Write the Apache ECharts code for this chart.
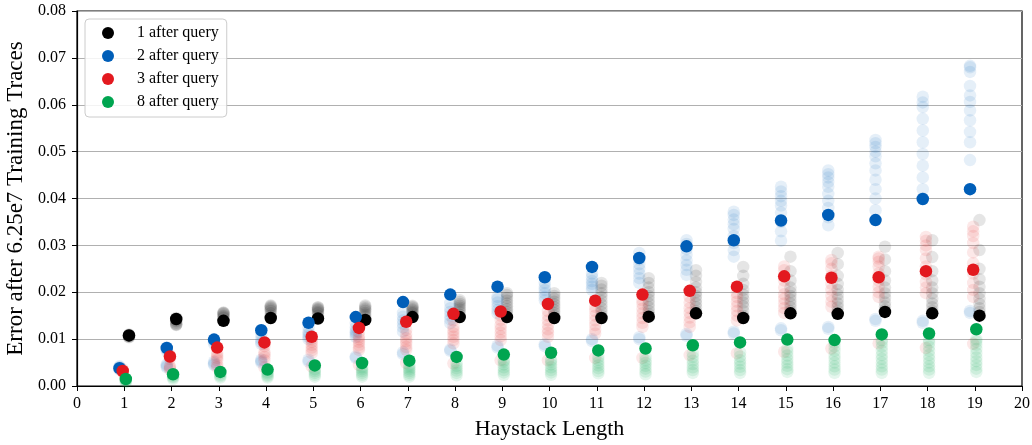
<!DOCTYPE html>
<html>
<head>
<meta charset="utf-8">
<script src="https://cdn.jsdelivr.net/npm/echarts@6/dist/echarts.min.js"></script>
<style>html,body{margin:0;padding:0;background:#fff}#c{width:1032px;height:445px}</style>
</head>
<body>
<div id="c"></div>
<script>
const haystack = [1,2,3,4,5,6,7,8,9,10,11,12,13,14,15,16,17,18,19];
const seriesNames = ['1 after query','2 after query','3 after query','8 after query'];

// Highlighted (solid) values
const main1 = [0.0108,0.0143,0.0139,0.0145,0.0144,0.0141,0.0147,0.0147,0.0147,0.0145,0.0145,0.0148,0.0155,0.0145,0.0155,0.0154,0.0158,0.0155,0.0150];
const main2 = [0.0038,0.0081,0.0099,0.0119,0.0135,0.0147,0.0179,0.0195,0.0212,0.0232,0.0254,0.0273,0.0298,0.0311,0.0353,0.0365,0.0354,0.0399,0.0420];
const main3 = [0.0032,0.0063,0.0082,0.0093,0.0105,0.0124,0.0137,0.0154,0.0159,0.0175,0.0182,0.0195,0.0203,0.0212,0.0234,0.0231,0.0232,0.0245,0.0248];
const main8 = [0.0015,0.0025,0.0030,0.0035,0.0044,0.0049,0.0054,0.0062,0.0067,0.0071,0.0076,0.0080,0.0087,0.0093,0.0099,0.0098,0.0110,0.0112,0.0121];

// Faded (individual run) values, one list per haystack length
const runs1 = [
  [0.0105,0.0106,0.0107,0.0108,0.0108,0.0109,0.0110,0.0104],
  [0.0130,0.0132,0.0135,0.0138,0.0140,0.0142,0.0145,0.0131],
  [0.0140,0.0145,0.0150,0.0153,0.0155,0.0157,0.0156,0.0148],
  [0.0150,0.0155,0.0160,0.0163,0.0166,0.0168,0.0170,0.0172],
  [0.0150,0.0155,0.0158,0.0161,0.0163,0.0165,0.0167,0.0168],
  [0.0148,0.0152,0.0156,0.0160,0.0163,0.0166,0.0169,0.0172],
  [0.0150,0.0155,0.0158,0.0161,0.0164,0.0167,0.0169,0.0171],
  [0.0152,0.0158,0.0163,0.0167,0.0171,0.0175,0.0179,0.0183],
  [0.0152,0.0158,0.0164,0.0170,0.0176,0.0182,0.0188,0.0194,0.0198],
  [0.0150,0.0156,0.0162,0.0168,0.0174,0.0180,0.0186,0.0192,0.0198],
  [0.0150,0.0158,0.0166,0.0174,0.0182,0.0190,0.0198,0.0206,0.0214,0.0220],
  [0.0153,0.0160,0.0168,0.0176,0.0184,0.0192,0.0200,0.0210,0.0220,0.0230],
  [0.0160,0.0168,0.0176,0.0184,0.0192,0.0200,0.0210,0.0222,0.0235,0.0247],
  [0.0150,0.0160,0.0170,0.0178,0.0186,0.0195,0.0205,0.0218,0.0235,0.0254],
  [0.0160,0.0168,0.0176,0.0184,0.0192,0.0200,0.0210,0.0225,0.0245,0.0276],
  [0.0160,0.0168,0.0176,0.0185,0.0195,0.0205,0.0218,0.0235,0.0260,0.0284],
  [0.0162,0.0170,0.0178,0.0188,0.0198,0.0210,0.0225,0.0245,0.0270,0.0297],
  [0.0160,0.0168,0.0176,0.0186,0.0198,0.0210,0.0225,0.0245,0.0275,0.0311],
  [0.0158,0.0166,0.0175,0.0186,0.0198,0.0212,0.0228,0.0250,0.0290,0.0354]
];
const runs2 = [
  [0.0035,0.0037,0.0040,0.0042,0.0036,0.0039],
  [0.0040,0.0043,0.0046,0.0075,0.0078,0.0082],
  [0.0045,0.0048,0.0052,0.0090,0.0095,0.0098],
  [0.0050,0.0053,0.0056,0.0090,0.0094,0.0100,0.0110],
  [0.0052,0.0056,0.0100,0.0105,0.0110,0.0115,0.0125],
  [0.0060,0.0063,0.0105,0.0110,0.0114,0.0118,0.0125,0.0135],
  [0.0068,0.0072,0.0116,0.0125,0.0133,0.0140,0.0148,0.0156],
  [0.0075,0.0078,0.0134,0.0142,0.0150,0.0158,0.0166,0.0177],
  [0.0082,0.0086,0.0155,0.0162,0.0170,0.0178,0.0185,0.0190],
  [0.0085,0.0089,0.0183,0.0190,0.0198,0.0205,0.0212,0.0220],
  [0.0096,0.0100,0.0205,0.0212,0.0218,0.0224,0.0232,0.0240],
  [0.0100,0.0104,0.0220,0.0230,0.0240,0.0250,0.0260,0.0270,0.0284],
  [0.0107,0.0111,0.0237,0.0248,0.0258,0.0268,0.0280,0.0292,0.0303,0.0311],
  [0.0112,0.0116,0.0276,0.0290,0.0305,0.0320,0.0335,0.0345,0.0355,0.0365,0.0372],
  [0.0119,0.0123,0.0310,0.0330,0.0350,0.0370,0.0385,0.0395,0.0405,0.0415,0.0425],
  [0.0122,0.0126,0.0343,0.0360,0.0380,0.0395,0.0410,0.0425,0.0435,0.0445,0.0452,0.0460],
  [0.0139,0.0143,0.0375,0.0400,0.0420,0.0440,0.0460,0.0475,0.0490,0.0500,0.0510,0.0518,0.0525],
  [0.0135,0.0139,0.0400,0.0420,0.0445,0.0470,0.0495,0.0520,0.0545,0.0570,0.0595,0.0605,0.0617],
  [0.0156,0.0160,0.0482,0.0520,0.0542,0.0567,0.0588,0.0606,0.0620,0.0640,0.0670,0.0680,0.0683]
];
const runs3 = [
  [0.0030,0.0032,0.0034,0.0036,0.0031],
  [0.0036,0.0039,0.0042,0.0058,0.0062,0.0066],
  [0.0040,0.0045,0.0055,0.0060,0.0065,0.0070],
  [0.0040,0.0055,0.0062,0.0068,0.0072,0.0085,0.0090],
  [0.0042,0.0070,0.0076,0.0082,0.0088,0.0094,0.0100],
  [0.0045,0.0077,0.0082,0.0088,0.0094,0.0100,0.0105,0.0115],
  [0.0049,0.0077,0.0083,0.0090,0.0096,0.0102,0.0110,0.0120],
  [0.0048,0.0091,0.0098,0.0105,0.0112,0.0119,0.0126,0.0140],
  [0.0055,0.0098,0.0106,0.0114,0.0122,0.0130,0.0141,0.0150],
  [0.0055,0.0105,0.0113,0.0121,0.0130,0.0140,0.0150,0.0160],
  [0.0060,0.0112,0.0120,0.0130,0.0140,0.0150,0.0160,0.0169],
  [0.0060,0.0126,0.0135,0.0145,0.0155,0.0165,0.0175,0.0183],
  [0.0066,0.0126,0.0136,0.0146,0.0156,0.0166,0.0178,0.0190],
  [0.0070,0.0140,0.0150,0.0160,0.0170,0.0180,0.0190,0.0198],
  [0.0073,0.0156,0.0166,0.0176,0.0186,0.0196,0.0210,0.0225,0.0247,0.0255],
  [0.0080,0.0169,0.0180,0.0192,0.0205,0.0218,0.0235,0.0250,0.0262,0.0269],
  [0.0091,0.0190,0.0200,0.0212,0.0225,0.0240,0.0255,0.0265,0.0272,0.0276],
  [0.0081,0.0198,0.0210,0.0222,0.0238,0.0255,0.0272,0.0290,0.0300,0.0310,0.0318],
  [0.0090,0.0190,0.0205,0.0220,0.0240,0.0262,0.0285,0.0305,0.0320,0.0330,0.0340]
];
const runs8 = [
  [0.0008,0.0010,0.0012,0.0013],
  [0.0015,0.0018,0.0020,0.0022],
  [0.0018,0.0021,0.0024,0.0027],
  [0.0018,0.0021,0.0024,0.0027,0.0030],
  [0.0020,0.0024,0.0028,0.0032,0.0036],
  [0.0020,0.0024,0.0028,0.0032,0.0036,0.0040],
  [0.0020,0.0024,0.0028,0.0032,0.0036,0.0040,0.0044],
  [0.0023,0.0028,0.0033,0.0038,0.0043,0.0049],
  [0.0024,0.0029,0.0034,0.0040,0.0046,0.0052,0.0055],
  [0.0024,0.0029,0.0034,0.0040,0.0046,0.0052,0.0056],
  [0.0027,0.0032,0.0038,0.0044,0.0050,0.0056,0.0062],
  [0.0025,0.0031,0.0037,0.0043,0.0049,0.0055,0.0062],
  [0.0028,0.0034,0.0040,0.0047,0.0054,0.0062,0.0070],
  [0.0028,0.0034,0.0041,0.0048,0.0055,0.0063,0.0072],
  [0.0030,0.0036,0.0043,0.0050,0.0057,0.0065,0.0073,0.0080],
  [0.0028,0.0035,0.0042,0.0050,0.0058,0.0066,0.0075,0.0084,0.0092],
  [0.0028,0.0035,0.0042,0.0050,0.0058,0.0066,0.0075,0.0084,0.0092,0.0098],
  [0.0028,0.0035,0.0042,0.0050,0.0058,0.0066,0.0075,0.0084,0.0092,0.0098],
  [0.0030,0.0037,0.0045,0.0053,0.0061,0.0070,0.0079,0.0088,0.0095,0.0100]
];

const xTicks = [0,1,2,3,4,5,6,7,8,9,10,11,12,13,14,15,16,17,18,19,20];
const yTicks = [0.00,0.01,0.02,0.03,0.04,0.05,0.06,0.07,0.08];

// styling
const colors = ['#000000','#005eb8','#e3191f','#00a550'];
const offsets = [0.1,-0.1,-0.033,0.033];
const mains = [main1,main2,main3,main8];
const runs = [runs1,runs2,runs3,runs8];
const FONT = 'Liberation Serif';

const series = [];
runs.forEach((r,si)=>{
  const data = [];
  r.forEach((vals,i)=>vals.forEach(v=>data.push([haystack[i]+offsets[si], v])));
  series.push({type:'scatter', name:'_runs'+si, data, symbolSize:12.5, silent:true,
    itemStyle:{color:colors[si], opacity:0.1}, z:1});
});
mains.forEach((m,si)=>{
  series.push({type:'scatter', name:seriesNames[si], symbolSize:12.5, silent:true,
    data:m.map((v,i)=>[haystack[i]+offsets[si], v]),
    itemStyle:{color:colors[si], opacity:1}, z:3});
});

const chart = echarts.init(document.getElementById('c'), null, {renderer:'canvas'});
chart.setOption({
  animation:false,
  backgroundColor:'#fff',
  textStyle:{fontFamily:FONT},
  grid:{left:77, right:10, top:11, bottom:59, show:true, borderColor:'#000', borderWidth:1.2,
    containLabel:false, outerBoundsMode:'none'},
  legend:{
    data:seriesNames, left:85, top:19, orient:'vertical',
    icon:'circle', itemWidth:26, itemHeight:12, itemGap:7,
    padding:[6,8,7,17],
    backgroundColor:'rgba(255,255,255,0.85)', borderColor:'#cccccc', borderWidth:1, borderRadius:4,
    textStyle:{fontFamily:FONT, fontSize:16, color:'#000', lineHeight:16, padding:[0,0,0,11]}
  },
  xAxis:{type:'value', min:xTicks[0], max:xTicks[xTicks.length-1], interval:1,
    name:'Haystack Length', nameLocation:'middle', nameGap:32,
    nameTextStyle:{fontFamily:FONT, fontSize:22, color:'#000'},
    axisLine:{lineStyle:{color:'#000', width:1.2}},
    axisTick:{show:true, length:5, lineStyle:{color:'#000', width:1}},
    axisLabel:{fontFamily:FONT, fontSize:16, color:'#000', margin:10},
    splitLine:{show:false}},
  yAxis:{type:'value', min:yTicks[0], max:yTicks[yTicks.length-1], interval:0.01,
    name:'Error after 6.25e7 Training Traces', nameLocation:'middle', nameGap:46, nameRotate:90,
    nameTextStyle:{fontFamily:FONT, fontSize:23, color:'#000'},
    axisLine:{show:true, lineStyle:{color:'#000', width:1.2}},
    axisTick:{show:true, length:5, lineStyle:{color:'#000', width:1}},
    axisLabel:{fontFamily:FONT, fontSize:16, color:'#000', margin:11, formatter:v=>v.toFixed(2)},
    splitLine:{show:true, lineStyle:{color:'#b0b0b0', width:1.2}}},
  series
});
</script>
</body>
</html>
